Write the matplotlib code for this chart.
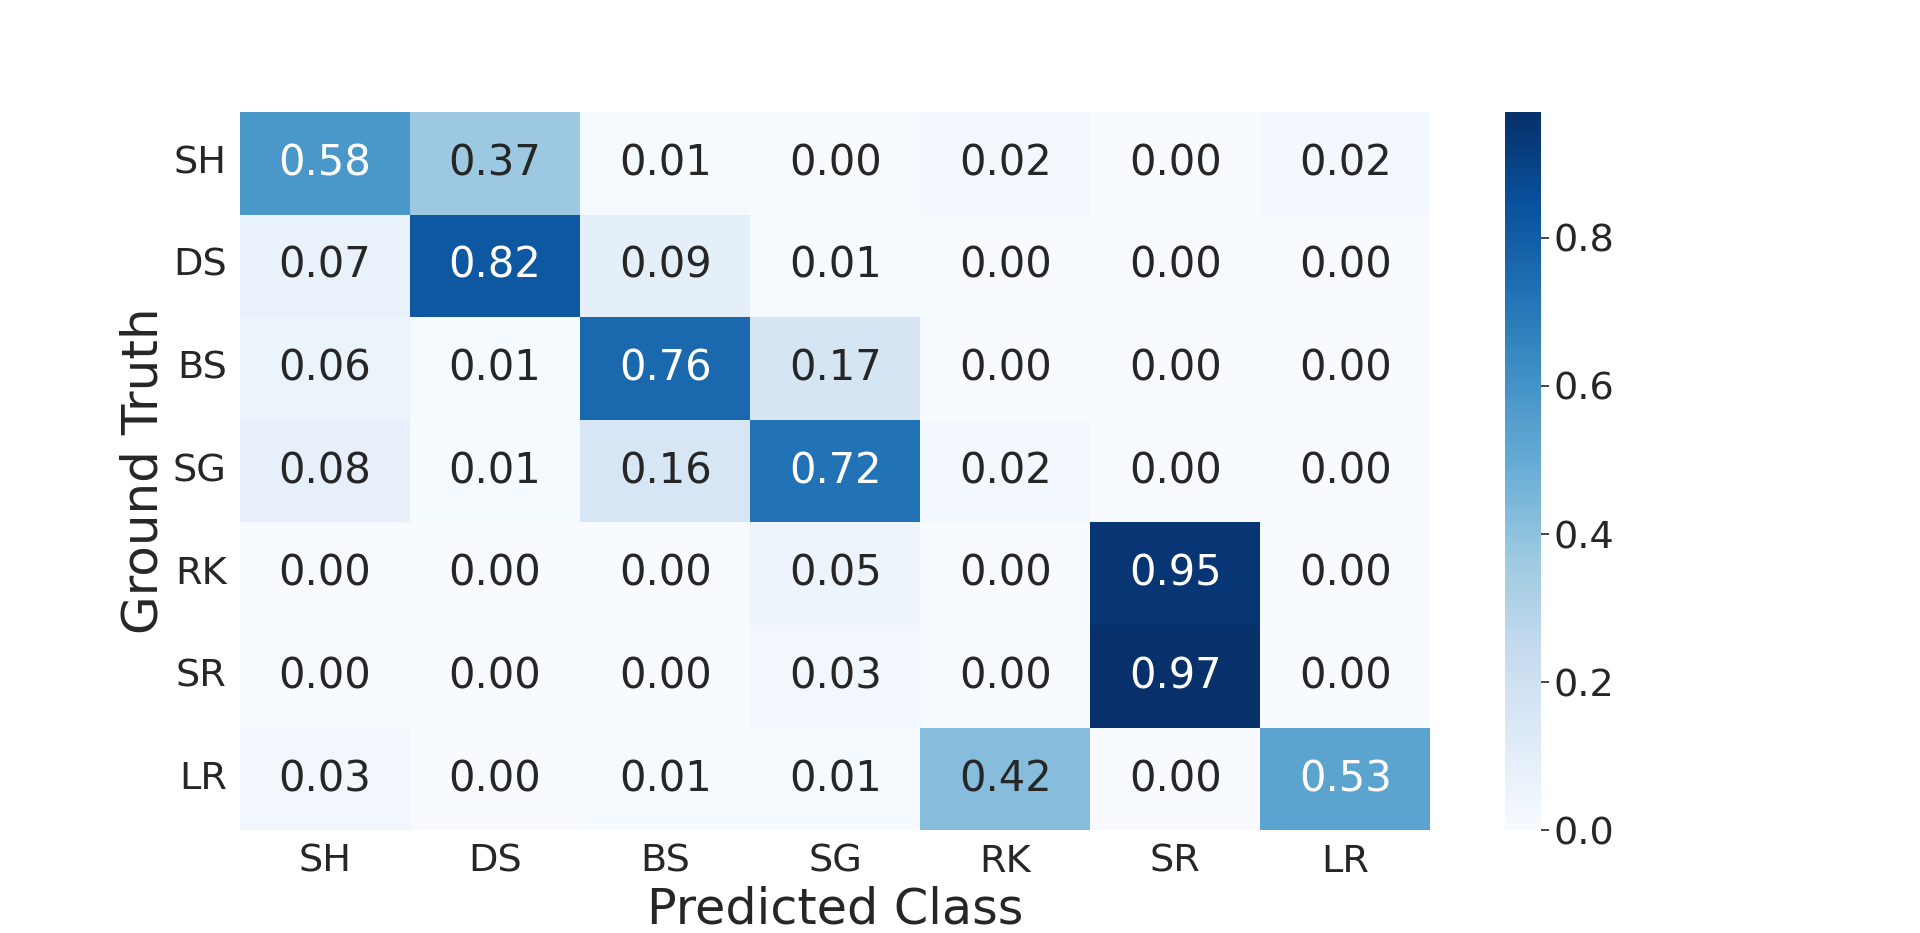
import numpy as np
import matplotlib
matplotlib.use("Agg")
import matplotlib.pyplot as plt
import seaborn as sns

# class labels
classes = ["SH", "DS", "BS", "SG", "RK", "SR", "LR"]

# confusion matrix rows (ground truth)
row_sh = [0.58, 0.37, 0.01, 0.00, 0.02, 0.00, 0.02]
row_ds = [0.07, 0.82, 0.09, 0.01, 0.00, 0.00, 0.00]
row_bs = [0.06, 0.01, 0.76, 0.17, 0.00, 0.00, 0.00]
row_sg = [0.08, 0.01, 0.16, 0.72, 0.02, 0.00, 0.00]
row_rk = [0.00, 0.00, 0.00, 0.05, 0.00, 0.95, 0.00]
row_sr = [0.00, 0.00, 0.00, 0.03, 0.00, 0.97, 0.00]
row_lr = [0.03, 0.00, 0.01, 0.01, 0.42, 0.00, 0.53]

cm = np.array([row_sh, row_ds, row_bs, row_sg, row_rk, row_sr, row_lr])

sns.set_theme(style="white")
plt.rcParams['font.family'] = ['DejaVu Sans']

fig, ax = plt.subplots(figsize=(19.2, 9.33), dpi=100)
sns.heatmap(cm, annot=True, fmt=".2f", cmap="Blues", ax=ax,
            xticklabels=classes, yticklabels=classes,
            annot_kws={"size": 30})

ax.set_xlabel("Predicted Class", fontsize=35.5, color="#262626")
ax.set_ylabel("Ground Truth", fontsize=36, color="#262626")
ax.tick_params(axis="both", labelsize=27.5, colors="#262626")
plt.setp(ax.get_yticklabels(), rotation=0)

cbar = ax.collections[0].colorbar
cbar.ax.tick_params(labelsize=27.5, length=6, width=1.2, colors="#262626")
cbar.set_ticks([0.0, 0.2, 0.4, 0.6, 0.8])

plt.savefig("out.png", dpi=100)
plt.close()
